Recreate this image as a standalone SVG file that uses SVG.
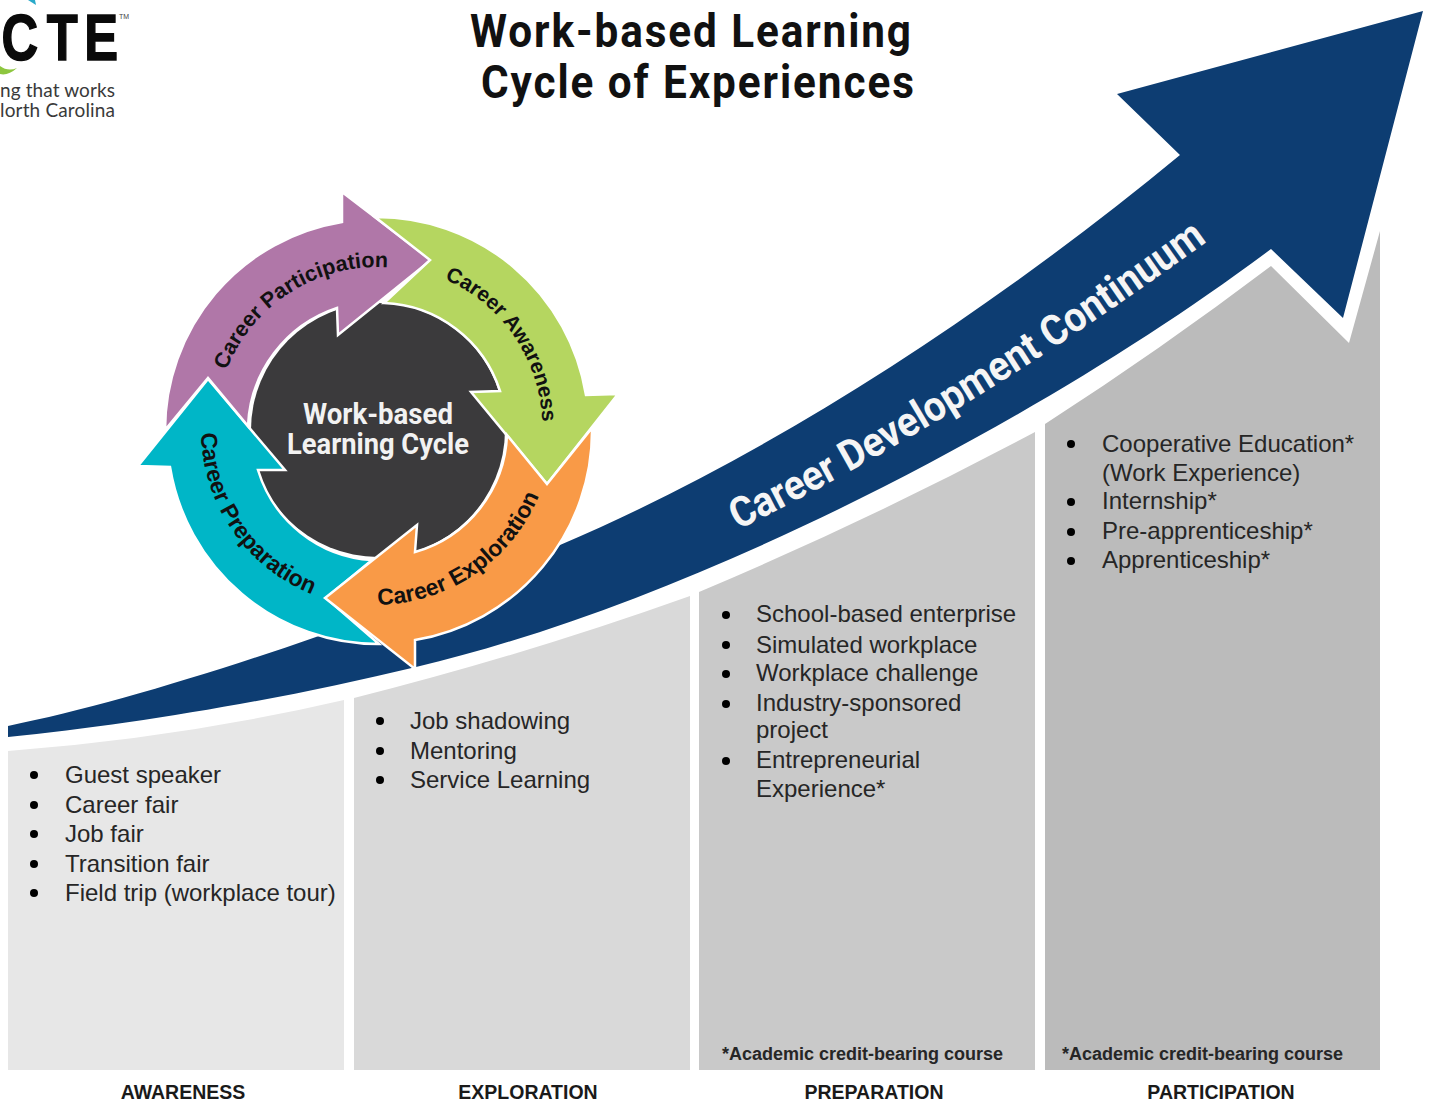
<svg xmlns="http://www.w3.org/2000/svg" width="1429" height="1103" viewBox="0 0 1429 1103">
<style>
.item{font:24px "Liberation Sans",Arial,sans-serif;fill:#262626}
.bul{fill:#000}
.hdr{font:bold 19.5px "Liberation Sans",Arial,sans-serif;fill:#1a1a1a;text-anchor:middle}
.note{font:bold 18px "Liberation Sans",Arial,sans-serif;fill:#262626}
.title{font:bold 47px Roboto,"Liberation Sans",sans-serif;fill:#111}
.seg{stroke:#fff;stroke-width:2.5;stroke-linejoin:miter}
.cyc{font:bold 21.5px "Liberation Sans",Arial,sans-serif;fill:#111;text-anchor:middle}
.ctr{font:bold 29px Roboto,"Liberation Sans",sans-serif;fill:#f2f2f2;text-anchor:middle}
.logo{font:19px Lato,"Noto Sans",sans-serif;fill:#3a3a3a}
</style>
<defs>
<path id="pPart" d="M215.2 437.1A163 163 0 0 1 453.3 285.4"/>
<path id="pAware" d="M368 266A163 163 0 0 1 527 498"/>
<path id="pExpl" d="M298 587A177 177 0 0 0 552 415"/>
<path id="pPrep" d="M218.2 353.8A177 177 0 0 0 391.9 606.5"/>
<path id="pCont" d="M738 530Q965 418 1212 238"/>
</defs>
<rect width="1429" height="1103" fill="#fff"/>
<g id="logo">
<path d="M0 66Q8 72 17 68Q8 76 0 74Z" fill="#8dc63f"/>
<path d="M28 0L35 0L36 5Z" fill="#29a9c9"/>
<text transform="scale(.78 1)" x="2 60 108" y="60" font-family="'Liberation Sans',sans-serif" font-weight="bold" font-size="65" fill="#0a0a0a" stroke="#0a0a0a" stroke-width="1.5">CTE</text>
<text x="119" y="19" font-family="'Liberation Sans',sans-serif" font-size="7" fill="#444">TM</text>
<text class="logo" x="0" y="97" textLength="115">ng that works</text>
<text class="logo" x="0" y="117" textLength="115">lorth Carolina</text>
</g>
<g id="title">
<text class="title" transform="translate(470 47) scale(.9 1)" x="0" y="0" textLength="490" lengthAdjust="spacing">Work-based Learning</text>
<text class="title" transform="translate(481 98) scale(.9 1)" x="0" y="0" textLength="481" lengthAdjust="spacing">Cycle of Experiences</text>
</g>
<g id="stage-awareness">
<path d="M8 751Q180 738 344 700V1070H8Z" fill="#e7e7e7"/>
<circle class="bul" cx="34" cy="775" r="4"/><circle class="bul" cx="34" cy="805" r="4"/><circle class="bul" cx="34" cy="834" r="4"/><circle class="bul" cx="34" cy="864" r="4"/><circle class="bul" cx="34" cy="893" r="4"/>
<text class="item" x="65" y="783">Guest speaker</text>
<text class="item" x="65" y="813">Career fair</text>
<text class="item" x="65" y="842">Job fair</text>
<text class="item" x="65" y="872">Transition fair</text>
<text class="item" x="65" y="901">Field trip (workplace tour)</text>
<text class="hdr" x="183" y="1099">AWARENESS</text>
</g>
<g id="stage-exploration">
<path d="M354 698Q525 655 690 596V1070H354Z" fill="#d9d9d9"/>
<circle class="bul" cx="380" cy="721" r="4"/><circle class="bul" cx="380" cy="751" r="4"/><circle class="bul" cx="380" cy="780" r="4"/>
<text class="item" x="410" y="729">Job shadowing</text>
<text class="item" x="410" y="759">Mentoring</text>
<text class="item" x="410" y="788">Service Learning</text>
<text class="hdr" x="528" y="1099">EXPLORATION</text>
</g>
<g id="stage-preparation">
<path d="M699 592Q870 520 1035 432V1070H699Z" fill="#c9c9c9"/>
<circle class="bul" cx="726" cy="615" r="4"/><circle class="bul" cx="726" cy="645" r="4"/><circle class="bul" cx="726" cy="674" r="4"/><circle class="bul" cx="726" cy="704" r="4"/><circle class="bul" cx="726" cy="761" r="4"/>
<text class="item" x="756" y="622">School-based enterprise</text>
<text class="item" x="756" y="653">Simulated workplace</text>
<text class="item" x="756" y="681">Workplace challenge</text>
<text class="item" x="756" y="711">Industry-sponsored</text>
<text class="item" x="756" y="738">project</text>
<text class="item" x="756" y="768">Entrepreneurial</text>
<text class="item" x="756" y="797">Experience*</text>
<text class="note" x="722" y="1060">*Academic credit-bearing course</text>
<text class="hdr" x="874" y="1099">PREPARATION</text>
</g>
<g id="stage-participation">
<path d="M1045 424Q1160 350 1271 266L1349 343L1380 231V1070H1045Z" fill="#bbb"/>
<circle class="bul" cx="1071" cy="444" r="4"/><circle class="bul" cx="1071" cy="502" r="4"/><circle class="bul" cx="1071" cy="532" r="4"/><circle class="bul" cx="1071" cy="561" r="4"/>
<text class="item" x="1102" y="452">Cooperative Education*</text>
<text class="item" x="1102" y="481">(Work Experience)</text>
<text class="item" x="1102" y="509">Internship*</text>
<text class="item" x="1102" y="539">Pre-apprenticeship*</text>
<text class="item" x="1102" y="568">Apprenticeship*</text>
<text class="note" x="1062" y="1060">*Academic credit-bearing course</text>
<text class="hdr" x="1221" y="1099">PARTICIPATION</text>
</g>
<g id="connectors">
<g id="continuum-arrow">
<path d="M8 726C150 697 350 630 560 545C760 460 980 320 1180 155L1117 94L1423 11L1343 318L1271 249C1050 415 700 600 416 667C280 700 130 725 8 737Z" fill="#0d3d72"/>
<text font-family="Roboto,'Liberation Sans',sans-serif" font-weight="bold" font-size="42" fill="#f5f5f5" textLength="552" lengthAdjust="spacingAndGlyphs"><textPath href="#pCont">Career Development Continuum</textPath></text>
</g>
</g>
<g id="cycle">
<circle id="cycle-center" cx="378" cy="430" r="127" fill="#3b3a3c"/>
<text class="ctr" x="378" y="424" textLength="150" lengthAdjust="spacingAndGlyphs">Work-based</text>
<text class="ctr" x="378" y="454" textLength="182" lengthAdjust="spacingAndGlyphs">Learning Cycle</text>
<g id="cycle-preparation">
<path class="seg" d="M379 644A211 211 0 0 1 170 467L138 466L208 379L285 470L258 470A127 127 0 0 0 372 560L326 598Z" fill="#00b6c7"/>
<text class="cyc" style="font-size:23px"><textPath href="#pPrep" startOffset="50%">Career Preparation</textPath></text>
</g>
<g id="cycle-participation">
<path class="seg" d="M248 426A130 130 0 0 1 337 308L338 335L431 260L342 192L342 222A211 211 0 0 0 165 430L208 378Z" fill="#b077a8"/>
<text class="cyc"><textPath href="#pPart" startOffset="50%">Career Participation</textPath></text>
</g>
<g id="cycle-awareness">
<path class="seg" d="M375 217A212 212 0 0 1 586 395L618 394L547 484L471 392L500 391A127 127 0 0 0 384 303L430 260Z" fill="#b5d660"/>
<text class="cyc" style="font-size:21px"><textPath href="#pAware" startOffset="50%">Career Awareness</textPath></text>
</g>
<g id="cycle-exploration">
<path class="seg" d="M592 428A212 212 0 0 1 415 640L415 669L325 598L417 525L415 552A127 127 0 0 0 507 435L547 484Z" fill="#f99a47"/>
<text class="cyc" style="font-size:23px"><textPath href="#pExpl" startOffset="50%">Career Exploration</textPath></text>
</g>
</g>
</svg>
